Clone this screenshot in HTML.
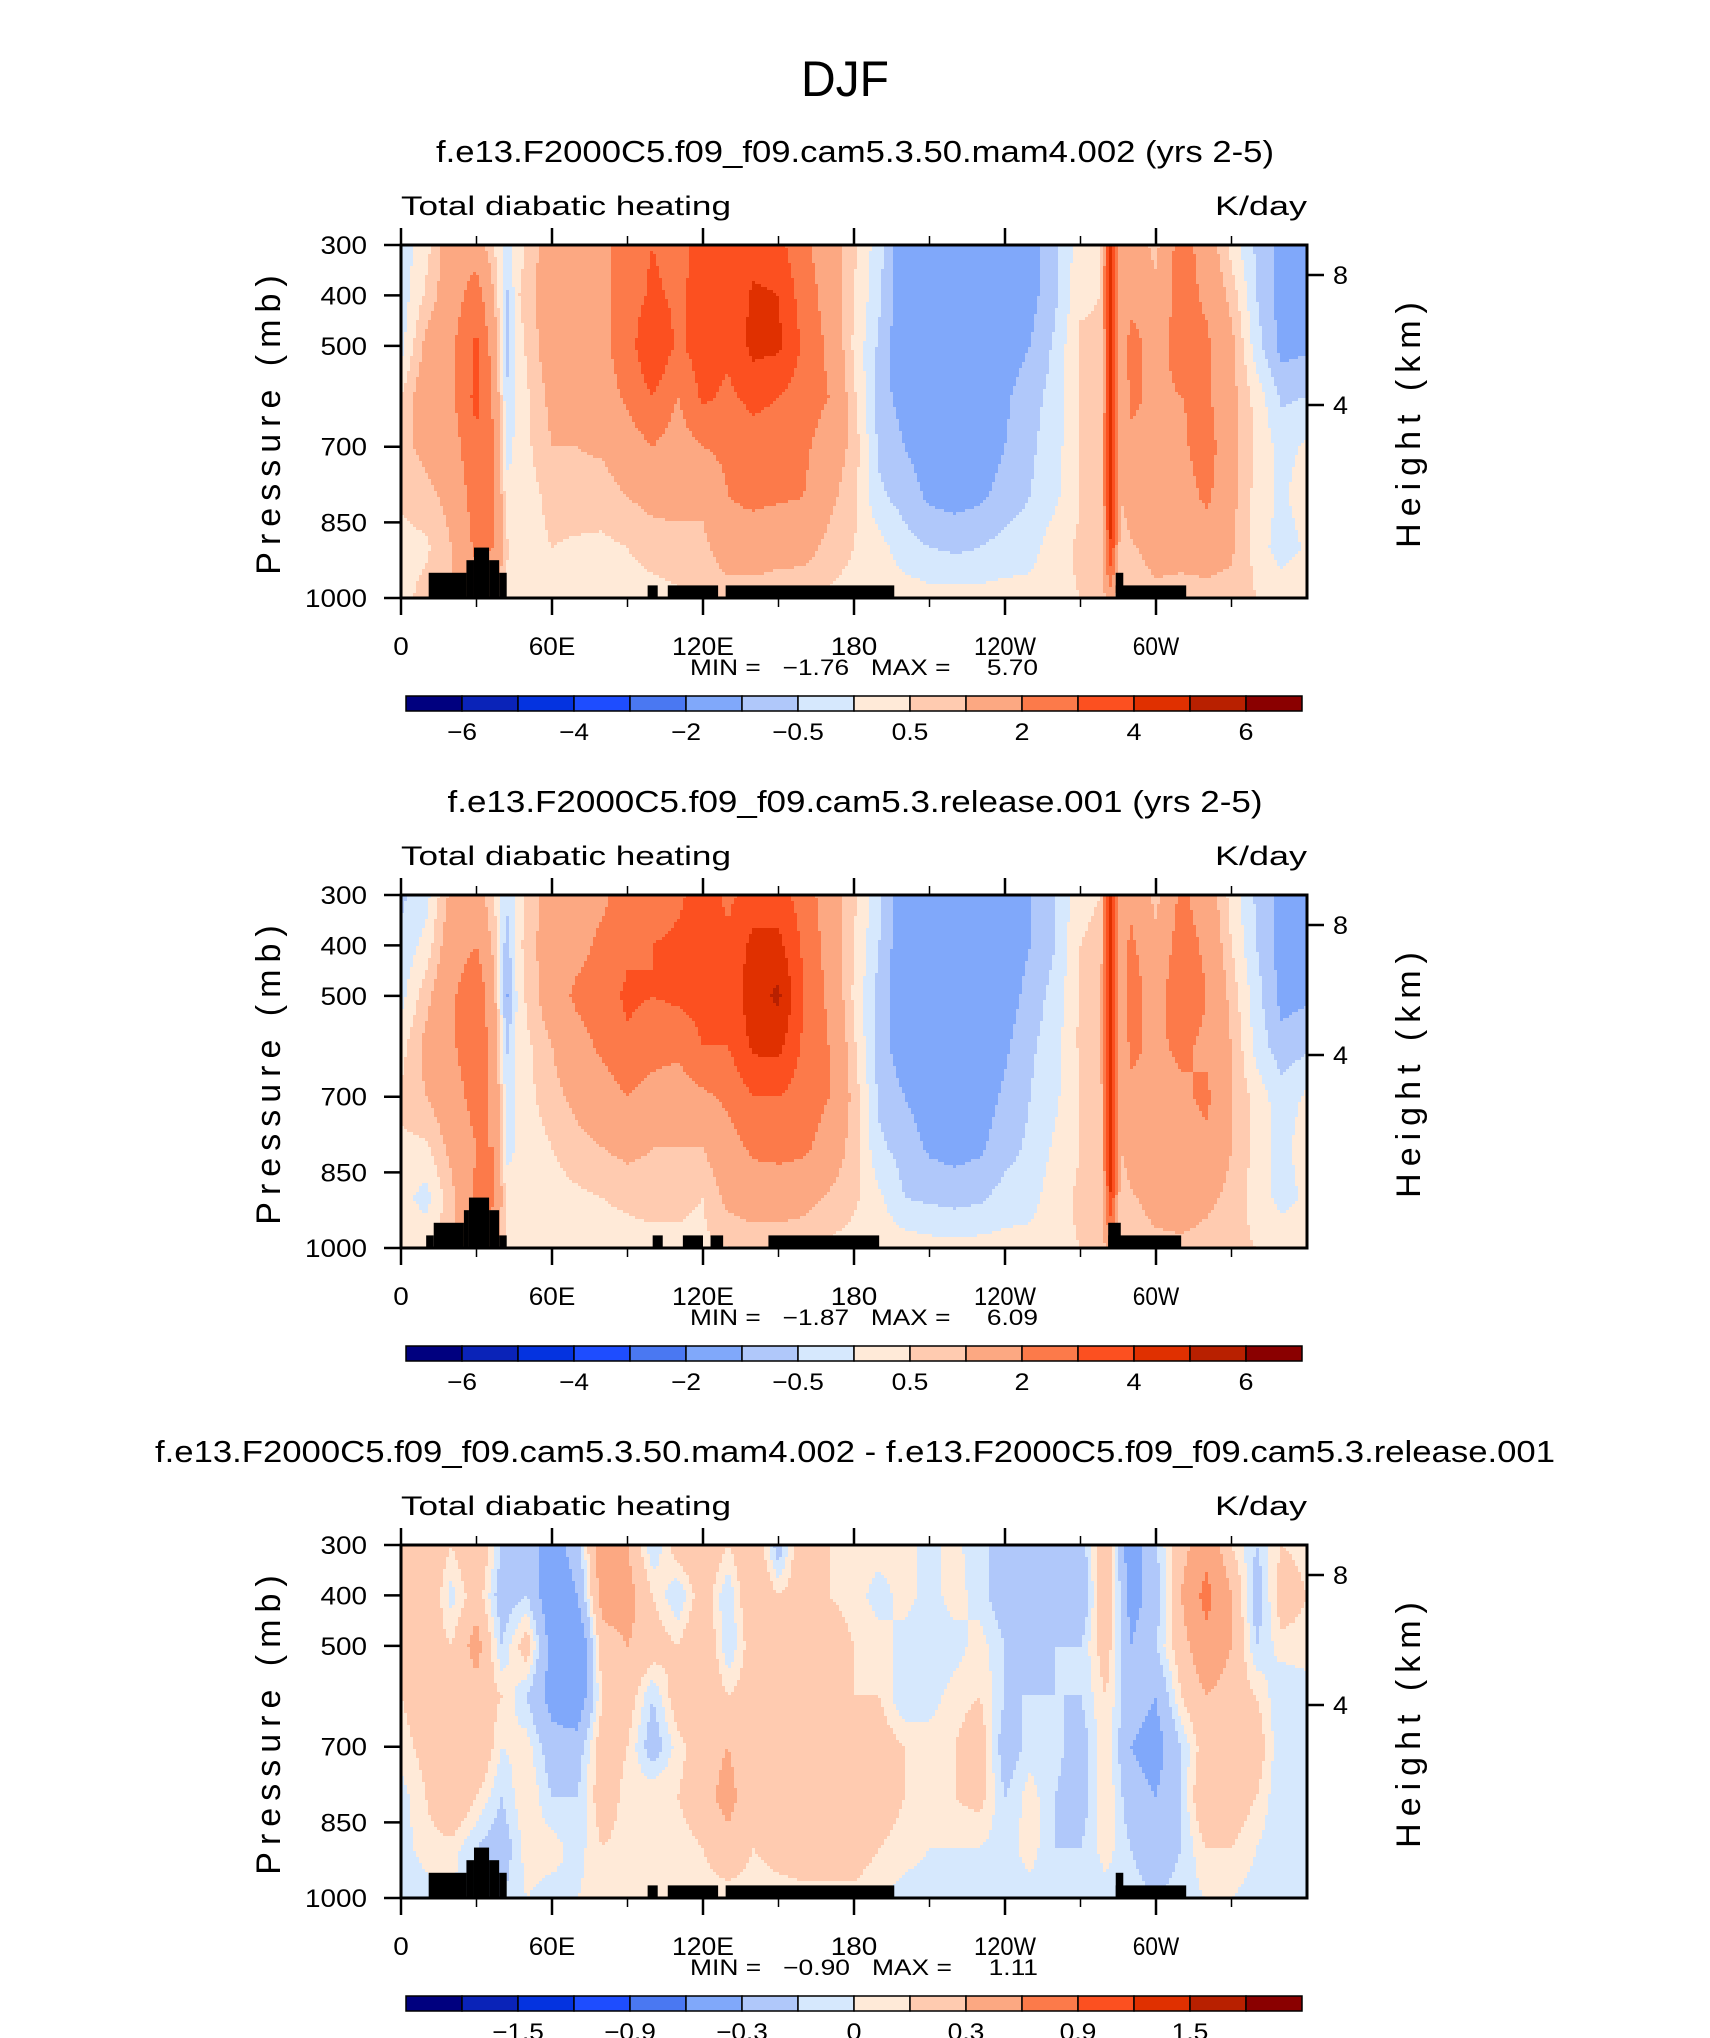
<!DOCTYPE html>
<html><head><meta charset="utf-8">
<style>
html,body{margin:0;padding:0;background:#fff;}
svg{display:block;font-family:"Liberation Sans",sans-serif;}
text{white-space:pre;}
</style></head>
<body>
<svg id="fig" width="1710" height="2038" viewBox="0 0 1710 2038" xmlns="http://www.w3.org/2000/svg">
<rect width="1710" height="2038" fill="#fff"/>
<text x="845" y="96" text-anchor="middle" font-size="50" font-weight="300" textLength="88" lengthAdjust="spacingAndGlyphs">DJF</text>
</svg>
<script>
// ---------- data ----------
const pressureLevels=[300,400,500,600,700,800,900,1000];
const lonsA=[0,10,20,30,37,42,47,60,70,80,90,100,110,120,130,140,150,160,170,180,190,200,210,220,230,240,250,260,270,278,282,286,290,300,310,320,330,340,350,360];
const field1=[
[-0.3,-0.3,-0.2,0.5,0.8,0.6,0.3,0.3],
[0.3,0.6,1.2,1.5,1.2,0.8,0.4,0.7],
[1.5,1.5,1.8,1.8,1.5,1.2,1,1],
[1.5,2.5,3.2,3.3,2.8,2.5,2.2,1.5],
[0.5,1.0,1.5,1.8,2.0,2.2,2.0,1.2],
[-0.3,-0.6,-0.8,-0.4,-0.2,0.2,0.6,0.3],
[0.3,0.5,0.3,0.2,0.2,0.1,0.2,0.2],
[1.5,1.5,1.5,1.2,1.0,0.7,0.5,0.3],
[1.7,1.7,1.6,1.3,1.0,0.8,0.4,0.3],
[1.8,1.8,1.8,1.5,1.1,0.7,0.4,0.3],
[2.5,2.5,2.5,2.2,1.5,1,0.5,0.3],
[3,3.2,4.0,3,2,1.2,0.7,0.3],
[2.5,2.8,2.8,2.0,1.5,1.2,0.8,0.4],
[3.5,3.5,3.5,3.2,2.0,1.2,0.8,0.5],
[3.0,3.2,3.2,2.8,2.2,2.0,1.5,0.6],
[3.5,4.2,4.3,3.3,2.5,2.2,1.5,0.6],
[3.3,4.0,4.2,3.0,2.5,2.1,1.3,0.6],
[2.2,2.5,2.8,2.5,2.2,2.0,1.3,0.5],
[1.5,1.6,1.8,2.0,1.5,1.2,0.8,0.4],
[0.6,0.5,0.4,0.6,0.8,0.6,0.5,0.3],
[-0.3,-0.4,-0.6,-0.8,-0.6,-0.4,0.2,0.3],
[-1.5,-1.5,-1.5,-1.2,-1.0,-0.7,-0.3,0.3],
[-1.5,-1.5,-1.5,-1.5,-1.3,-1.1,-0.5,0.2],
[-1.5,-1.5,-1.5,-1.5,-1.4,-1.2,-0.6,0.2],
[-1.5,-1.5,-1.5,-1.4,-1.3,-1.1,-0.5,0.2],
[-1.4,-1.4,-1.3,-1.1,-1.0,-0.8,-0.3,0.2],
[-1.2,-1.2,-1.0,-0.7,-0.6,-0.5,-0.2,0.2],
[-0.6,-0.6,-0.4,-0.3,-0.2,-0.1,0.3,0.4],
[0.3,0.4,0.6,0.6,0.5,0.5,0.6,0.5],
[0.4,0.5,0.6,0.6,0.5,0.5,0.5,0.5],
[4.5,4.5,4.2,4.2,4.5,4.5,4,1.5],
[1,1,1,1,1,1,0.5,0.5],
[1.5,1.6,2.5,2.2,1.8,1.5,0.9,0.6],
[0.8,1.2,1.5,1.8,1.5,1.5,1.3,0.8],
[2.5,2.5,2.5,2.0,1.8,1.5,1.2,0.8],
[1.5,1.8,2.2,2.2,2.5,2.2,1.3,0.8],
[0.3,0.8,1.2,1.2,1.2,1.2,1.1,0.8],
[-0.6,-0.5,-0.3,0.3,0.4,0.3,0.3,0.5],
[-1.2,-1.2,-1.2,-0.6,-0.2,-0.1,-0.3,0.4],
[-1.2,-1.2,-1.1,-0.5,0.1,0.3,0.1,0.5]];
const field2=[
[-0.6,-0.4,-0.2,0.3,0.6,0.4,0.2,0.3],
[-0.2,0.2,0.8,1.2,1.0,0.4,-0.2,0.4],
[1.2,1.5,1.8,1.8,1.5,1.2,0.8,0.9],
[1.4,2.0,2.8,2.8,2.4,2.0,2.2,1.5],
[0.5,0.8,1.2,1.5,1.8,2.0,2.2,1.2],
[-0.4,-0.8,-1.1,-0.6,-0.3,-0.2,0.3,0.3],
[0.3,0.4,0.3,0.2,0.2,0.1,0.2,0.2],
[1.5,1.5,1.5,1.0,0.8,0.5,0.3,0.3],
[1.7,1.7,2.2,1.6,1.2,0.8,0.4,0.3],
[1.8,2.2,2.5,2.2,1.5,1.0,0.5,0.3],
[2.5,2.8,3.2,2.8,2.0,1.2,0.6,0.3],
[2.5,3.0,3.0,2.4,1.6,1.0,0.7,0.3],
[2.8,3.2,3.2,2.2,1.5,1.0,0.6,0.4],
[3.5,3.5,3.4,3.0,1.8,1.0,0.5,0.4],
[2.8,3.2,3.3,3.0,2.2,1.6,1.2,0.5],
[3.4,4.3,4.6,4.2,3.0,2.2,1.4,0.6],
[3.5,4.3,5.2,4.3,3.0,2.3,1.4,0.6],
[2.5,2.8,3.0,2.8,2.5,2.2,1.3,0.5],
[1.5,1.6,1.8,2.0,2.0,1.6,0.9,0.4],
[0.6,0.5,0.4,0.6,0.8,0.7,0.6,0.3],
[-0.4,-0.5,-0.7,-0.8,-0.6,-0.4,0.1,0.3],
[-1.5,-1.5,-1.5,-1.3,-1.0,-0.7,-0.5,0.3],
[-1.5,-1.5,-1.5,-1.5,-1.3,-1.1,-0.6,0.2],
[-1.5,-1.5,-1.5,-1.5,-1.4,-1.2,-0.7,0.2],
[-1.5,-1.5,-1.5,-1.4,-1.3,-1.1,-0.6,0.2],
[-1.4,-1.4,-1.3,-1.1,-0.9,-0.7,-0.3,0.2],
[-1.0,-1.0,-0.8,-0.6,-0.5,-0.4,-0.2,0.2],
[-0.5,-0.5,-0.3,-0.2,-0.1,0.1,0.3,0.4],
[0.4,0.5,0.6,0.6,0.5,0.5,0.6,0.5],
[0.5,0.6,0.8,0.8,0.6,0.5,0.5,0.5],
[4.5,4.5,4.5,4.5,4.8,4.8,4,1.5],
[1.5,1.5,1.5,1.2,1.2,1.0,0.5,0.5],
[1.8,2.2,2.5,2.2,1.8,1.5,0.9,0.6],
[0.8,1.2,1.5,1.8,1.5,1.5,1.3,0.8],
[2.2,2.5,2.8,2.2,1.8,1.6,1.5,0.8],
[1.5,1.8,2.0,1.8,2.2,1.8,1.2,0.7],
[0.3,0.5,0.8,1.0,1.0,1.0,0.8,0.6],
[-0.6,-0.5,-0.3,-0.2,0.3,0.3,0.3,0.5],
[-1.2,-1.2,-1.2,-0.8,-0.3,-0.2,-0.2,0.4],
[-1.2,-1.2,-1.1,-0.6,0.1,0.3,0.1,0.5]];
const lonsB=[0,10,20,30,40,50,60,70,80,90,100,110,120,130,140,150,160,170,180,190,200,210,220,230,240,250,260,270,280,290,300,310,320,330,340,350,360];
const field3=[
[0.2,0.2,0.1,0.1,0.05,-0.05,-0.05,-0.1],
[0.3,0.3,0.2,0.2,0.15,0.1,0.05,-0.05],
[0.1,-0.05,0.1,0.2,0.2,0.3,0.05,0.0],
[0.3,0.2,0.4,0.2,0.3,0.1,-0.1,-0.1],
[-0.1,-0.2,-0.1,0.1,0.0,-0.1,-0.2,-0.1],
[-0.2,-0.1,0.2,-0.1,0.05,0.1,0.05,0.0],
[-0.4,-0.5,-0.4,-0.4,-0.2,-0.1,0.05,-0.05],
[-0.2,-0.3,-0.6,-0.5,-0.2,-0.1,-0.05,0.0],
[0.5,0.4,0.2,0.1,0.2,0.2,0.1,0.05],
[0.3,0.4,0.3,0.2,0.1,0.05,0.05,0.0],
[-0.1,0.1,0.2,-0.1,-0.2,0.1,0.05,0.0],
[0.2,-0.1,0.1,0.2,0.05,0.1,0.05,0.0],
[0.3,0.2,0.3,0.3,0.2,0.2,0.1,0.05],
[0.1,-0.1,-0.1,0.1,0.3,0.4,0.2,0.05],
[0.3,0.3,0.2,0.2,0.1,0.1,0.1,0.05],
[-0.2,0.1,0.3,0.2,0.2,0.2,0.15,0.05],
[0.3,0.2,0.1,0.1,0.2,0.2,0.2,0.05],
[0.1,0.1,0.2,0.3,0.3,0.3,0.2,0.05],
[0.05,0.05,0.1,0.1,0.2,0.2,0.2,0.05],
[0.05,-0.05,0.05,0.1,0.2,0.2,0.1,0.0],
[0.05,0.05,-0.05,-0.1,0.1,0.1,0.05,-0.05],
[-0.05,-0.05,-0.1,-0.05,0.05,0.05,0.0,-0.05],
[0.05,0.05,-0.05,0.05,0.1,0.1,0.0,-0.05],
[-0.1,-0.05,0.05,0.1,0.2,0.15,0.0,-0.05],
[-0.1,-0.2,-0.1,-0.1,-0.2,-0.1,-0.05,-0.05],
[-0.3,-0.3,-0.2,-0.1,-0.05,0.05,0.05,-0.05],
[-0.3,-0.2,-0.1,-0.1,-0.05,-0.1,-0.1,-0.05],
[-0.2,-0.3,-0.1,-0.1,-0.2,-0.2,-0.1,-0.05],
[0.3,0.3,0.2,0.1,0.1,0.1,0.05,-0.05],
[-0.5,-0.4,-0.3,-0.2,-0.3,-0.2,-0.1,-0.05],
[-0.1,-0.2,-0.1,-0.3,-0.4,-0.3,-0.2,-0.1],
[0.2,0.3,0.2,0.1,-0.1,-0.1,-0.1,-0.05],
[0.5,0.7,0.5,0.3,0.2,0.3,0.1,0.0],
[0.1,0.3,0.3,0.2,0.3,0.2,0.1,0.0],
[-0.1,-0.2,-0.1,0.1,0.2,0.1,0.0,-0.05],
[0.1,0.2,0.05,-0.1,-0.1,-0.1,-0.1,-0.05],
[0.05,0.1,0.05,-0.05,-0.05,-0.05,-0.05,-0.05]];
// topography: [lonStart, lonEnd, topPressure]
const topoA=[[11,26,950],[26,29,925],[29,35,900],[35,39,925],[39,42,950],[98,102,975],[106,126,975],[129,196,975],[284,287,950],[284,312,975]];
const topoB=[[10,13,975],[13,25,950],[25,27,925],[27,35,900],[35,39,925],[39,42,975],[100,104,975],[112,120,975],[123,128,975],[146,190,975],[281,286,950],[281,310,975]];
const levelsAbs=[-6,-5,-4,-3,-2,-1,-0.5,0,0.5,1,2,3,4,5,6];
const levelsDiff=[-1.8,-1.5,-1.2,-0.9,-0.6,-0.3,-0.1,0,0.1,0.3,0.6,0.9,1.2,1.5,1.8];
const cbLabelsAbs=["−6","−4","−2","−0.5","0.5","2","4","6"];
const cbLabelsDiff=["−1.5","−0.9","−0.3","0","0.3","0.9","1.5"];
const colors=["#00007f","#0a23b8","#0433e0","#1e4dff","#4a78f2","#80a8fa","#b0c8fa","#d6e8fd","#ffead8","#ffcbb0","#fca882","#fc7a4a","#fc5020","#e03000","#b82000","#8a0000"];
const pTicks=[300,400,500,700,850,1000];
const lonTickLabels=["0","60E","120E","180","120W","60W"];
const heightTicks=[[8,30],[4,160]];

// ---------- drawing ----------
const NS="http://www.w3.org/2000/svg";
const svg=document.getElementById('fig');
const X0=401,W=906,H=353;
function mk(tag,attrs,parent){const e=document.createElementNS(NS,tag);for(const k in attrs)e.setAttribute(k,attrs[k]);parent.appendChild(e);return e;}
function sample(field,lons,lon,p){
  let i=0;while(i<lons.length-2&&lon>lons[i+1])i++;
  const tx=Math.max(0,Math.min(1,(lon-lons[i])/(lons[i+1]-lons[i])));
  let fj=(p-300)/100;let j=Math.min(6,Math.max(0,Math.floor(fj)));const ty=Math.max(0,Math.min(1,fj-j));
  const a=field[i][j]*(1-ty)+field[i][j+1]*ty, b=field[i+1][j]*(1-ty)+field[i+1][j+1]*ty;
  return a*(1-tx)+b*tx;}
function cidx(v,levels){let k=0;while(k<levels.length&&v>=levels[k])k++;return k;}
function xOf(lon){return X0+lon/360*W;}
function charW(s,per){let w=0;for(const c of s){w+=(c==='.'?0.45:(c==='−'?1.0:1))*per;}return w;}
function panel(top,title,titleLen,field,lons,levels,topo,cbLabels,cbPos,minmax,id){
  const g=mk('g',{},svg);
  
  
  const yOf=p=>top+(p-300)/700*H;
  let t=mk('text',{x:855,y:top-83,'text-anchor':'middle','font-size':31,textLength:titleLen,lengthAdjust:'spacingAndGlyphs'},g);t.textContent=title;
  
  
  t=mk('text',{x:X0,y:top-30,'font-size':27,'font-weight':300,textLength:330,lengthAdjust:'spacingAndGlyphs'},g);t.textContent='Total diabatic heating';
  
  
  t=mk('text',{x:X0+W-92,y:top-30,'font-size':27,'font-weight':300,textLength:92,lengthAdjust:'spacingAndGlyphs'},g);t.textContent='K/day';
  
  
  const fg=mk('g',{},g);
  
  
  const cs=3;
  for(let y=0;y<H;y+=cs){
    const p=300+(y+cs/2)/H*700;const hh=Math.min(cs,H-y);
    let runStart=0,runC=-1;
    for(let x=0;x<=W;x+=cs){
      let c=-2;
      if(x<W){const lon=(x+cs/2)/W*360;c=cidx(sample(field,lons,lon,p),levels);}
      if(c!==runC){
        if(runC>=0){const r=mk('rect',{x:X0+runStart,y:top+y,width:Math.min(x,W)-runStart+0.6,height:hh+0.6,fill:colors[runC]},fg);
          
          }
        runStart=x;runC=c;}
    }
  }
  for(const s of topo){const r=mk('rect',{x:xOf(s[0]),y:yOf(s[2]),width:xOf(s[1])-xOf(s[0]),height:yOf(1000)-yOf(s[2]),fill:'#000'},g);
    
    }
  const fr=mk('rect',{x:X0,y:top,width:W,height:H,fill:'none',stroke:'#000','stroke-width':3},g);
  
  
  for(let lon=0;lon<=330;lon+=30){const major=lon%60===0;const L=major?17:9;const x=xOf(lon);
    const a=mk('line',{x1:x,x2:x,y1:top+H,y2:top+H+L,stroke:'#000','stroke-width':major?2.5:1.5},g);
    
    
    const b=mk('line',{x1:x,x2:x,y1:top,y2:top-L,stroke:'#000','stroke-width':major?2.5:1.5},g);
    
    }
  lonTickLabels.forEach((s,i)=>{const tt=mk('text',{x:xOf(i*60),y:top+H+57,'text-anchor':'middle','font-size':25,'font-weight':300,textLength:charW(s,15.5),lengthAdjust:'spacingAndGlyphs'},g);tt.textContent=s;
    
    });
  pTicks.forEach(p=>{const y=yOf(p);const l=mk('line',{x1:X0-17,x2:X0,y1:y,y2:y,stroke:'#000','stroke-width':2.5},g);
    
    
    const s=String(p);
    const tt=mk('text',{x:367,y:y+9,'text-anchor':'end','font-size':25,'font-weight':300,textLength:s.length*15.5,lengthAdjust:'spacingAndGlyphs'},g);tt.textContent=s;
    
    });
  heightTicks.forEach(h=>{const y=top+h[1];const l=mk('line',{x1:X0+W,x2:X0+W+17,y1:y,y2:y,stroke:'#000','stroke-width':2.5},g);
    
    
    const tt=mk('text',{x:X0+W+26,y:y+9,'font-size':25,'font-weight':300,textLength:15,lengthAdjust:'spacingAndGlyphs'},g);tt.textContent=String(h[0]);
    
    });
  t=mk('text',{x:0,y:0,'text-anchor':'middle','font-size':34,'font-weight':300,'letter-spacing':'7',transform:`translate(280,${top+H/2}) rotate(-90)`},g);t.textContent='Pressure (mb)';
  
  
  t=mk('text',{x:0,y:0,'text-anchor':'middle','font-size':34,'font-weight':300,'letter-spacing':'7',transform:`translate(1420,${top+H/2}) rotate(-90)`},g);t.textContent='Height (km)';
  
  
  t=mk('text',{x:864,y:top+H+77,'text-anchor':'middle','font-size':22,'font-weight':300,textLength:348,lengthAdjust:'spacingAndGlyphs'},g);t.textContent=minmax;
  
  
  const cy=top+H+98,cx=406,cw=(1302-406)/16;
  for(let k=0;k<16;k++){const r=mk('rect',{x:cx+k*cw,y:cy,width:cw,height:15,fill:colors[k],stroke:'#000','stroke-width':1.5},g);
    
    }
  cbLabels.forEach((s,i)=>{const tt=mk('text',{x:cx+cbPos[i]*cw,y:cy+44,'text-anchor':'middle','font-size':24,'font-weight':300,textLength:charW(s,15),lengthAdjust:'spacingAndGlyphs'},g);tt.textContent=s;
    
    });
}
panel(245,'f.e13.F2000C5.f09_f09.cam5.3.50.mam4.002 (yrs 2-5)',838,field1,lonsA,levelsAbs,topoA,cbLabelsAbs,[1,3,5,7,9,11,13,15],'MIN =   −1.76   MAX =     5.70','1');
panel(895,'f.e13.F2000C5.f09_f09.cam5.3.release.001 (yrs 2-5)',815,field2,lonsA,levelsAbs,topoB,cbLabelsAbs,[1,3,5,7,9,11,13,15],'MIN =   −1.87   MAX =     6.09','2');
panel(1545,'f.e13.F2000C5.f09_f09.cam5.3.50.mam4.002 - f.e13.F2000C5.f09_f09.cam5.3.release.001',1400,field3,lonsB,levelsDiff,topoA,cbLabelsDiff,[2,4,6,8,10,12,14],'MIN =   −0.90   MAX =     1.11','3');
</script>
</body></html>
